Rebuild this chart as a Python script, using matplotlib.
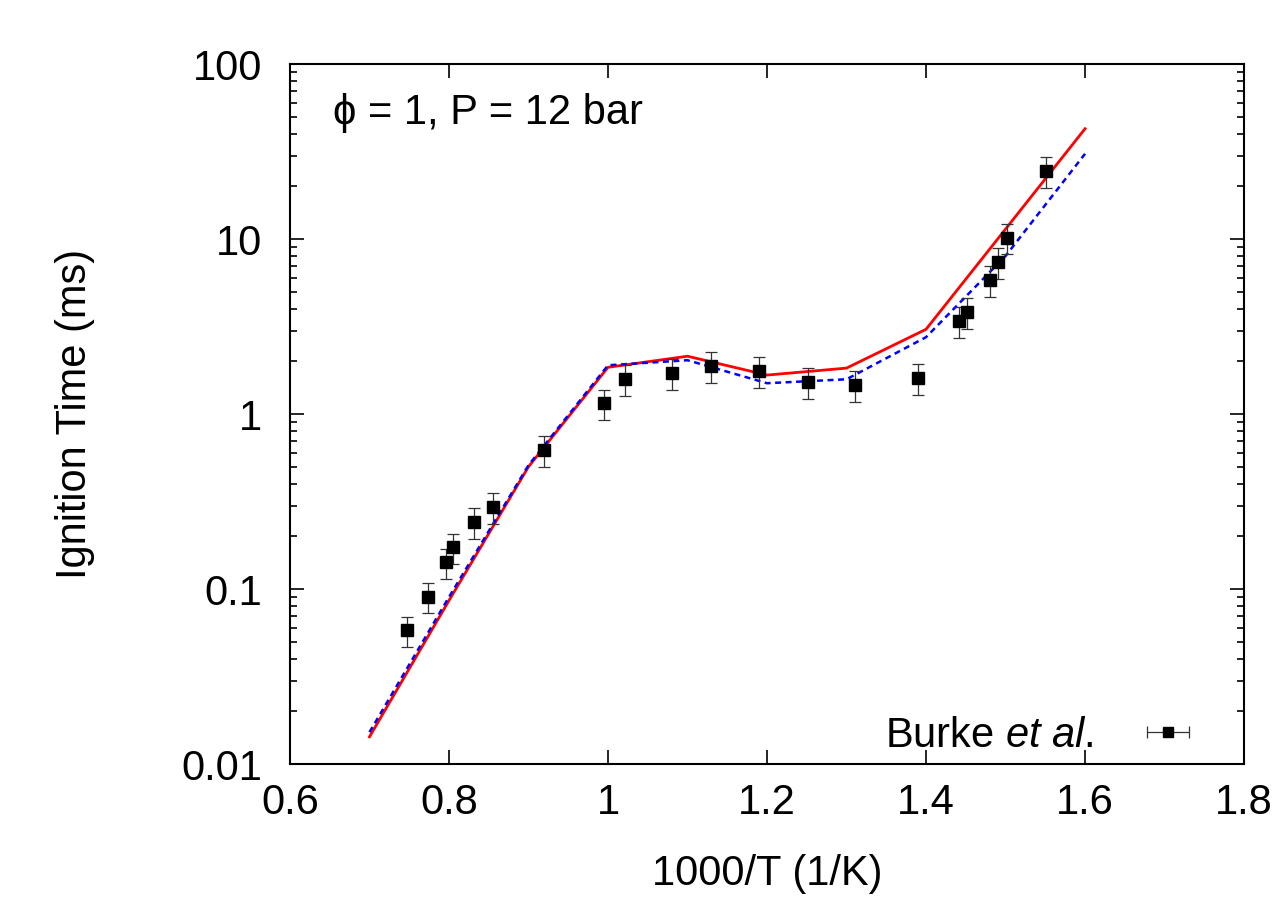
import numpy as np
import matplotlib
matplotlib.use('Agg')
import matplotlib.pyplot as plt
from matplotlib.ticker import LogLocator, NullFormatter, FixedLocator

plt.rcParams['font.family'] = ['Liberation Sans', 'DejaVu Sans']
plt.rcParams['mathtext.fontset'] = 'custom'
plt.rcParams['mathtext.rm'] = 'Liberation Sans'
plt.rcParams['mathtext.it'] = 'Liberation Sans:italic'

# model curves
x_model = [0.7, 0.8, 0.9, 1.0, 1.1, 1.2, 1.3, 1.4, 1.5, 1.6]
red_model = [0.0143, 0.086, 0.50, 1.85, 2.14, 1.67, 1.83, 3.05, 11.4, 42.7]
blue_model = [0.0152, 0.090, 0.51, 1.90, 2.03, 1.50, 1.58, 2.75, 8.0, 30.7]

# Burke et al. experimental data
x_exp = [0.747, 0.773, 0.796, 0.805, 0.831, 0.855, 0.919, 0.995, 1.021, 1.080,
         1.130, 1.190, 1.251, 1.311, 1.390, 1.441, 1.451, 1.481, 1.491, 1.502, 1.551]
y_exp = [0.058, 0.0906, 0.142, 0.173, 0.243, 0.296, 0.624, 1.15, 1.58, 1.72,
         1.88, 1.77, 1.53, 1.46, 1.61, 3.40, 3.83, 5.81, 7.38, 10.2, 24.5]
rel_err = 0.2

fig = plt.figure(figsize=(12.82, 9.15), dpi=100)
ax = fig.add_axes([0.2262, 0.1650, 0.9704 - 0.2262, 0.9300 - 0.1650])

ax.plot(x_model, red_model, color='red', lw=2.0, zorder=3)
ax.plot(x_model, blue_model, color='blue', lw=1.8, dashes=(2.4, 1.8), zorder=3)

y_arr = np.array(y_exp)
ax.errorbar(x_exp, y_arr, yerr=y_arr * rel_err, fmt='s', color='black',
            ms=8.5, ecolor='#333333', elinewidth=0.9, capsize=4.5, capthick=0.9, zorder=4)

# legend proxy with horizontal error bar
proxy = ax.errorbar([np.nan], [np.nan], xerr=[1.0], fmt='s', color='black', ms=7,
                    ecolor='#333333', elinewidth=0.9, capsize=4, capthick=0.9)
leg = ax.legend([proxy], ['Burke $\\it{et\\ al.}$'], loc='lower right', frameon=False,
                markerfirst=False, fontsize=30, handlelength=1.6, handletextpad=1.0,
                borderaxespad=0.0, bbox_to_anchor=(0.973, -0.012))

ax.set_yscale('log')
ax.set_xlim(0.6, 1.8)
ax.set_ylim(0.01, 100)
ax.xaxis.set_major_locator(FixedLocator([0.6, 0.8, 1.0, 1.2, 1.4, 1.6, 1.8]))
ax.set_xticklabels(['0.6', '0.8', '1', '1.2', '1.4', '1.6', '1.8'])
ax.set_yticks([0.01, 0.1, 1, 10, 100])
ax.set_yticklabels(['0.01', '0.1', '1', '10', '100'])
ax.yaxis.set_minor_locator(LogLocator(base=10, subs=np.arange(2, 10)))
ax.yaxis.set_minor_formatter(NullFormatter())

ax.tick_params(which='both', direction='in', top=True, right=True, labelsize=30, width=1.2)
ax.tick_params(which='major', length=10)
ax.tick_params(axis='x', which='major', pad=14)
ax.tick_params(axis='y', which='major', pad=20)
ax.tick_params(which='minor', length=5)
for s in ax.spines.values():
    s.set_linewidth(1.5)

ax.set_xlabel('1000/T (1/K)', fontsize=30, labelpad=22)
ax.set_ylabel('Ignition Time (ms)', fontsize=30, labelpad=62)

ax.text(0.045, 0.93, 'ϕ = 1, P = 12 bar', transform=ax.transAxes, fontsize=30,
        ha='left', va='center')

fig.savefig('out.png', dpi=100)
